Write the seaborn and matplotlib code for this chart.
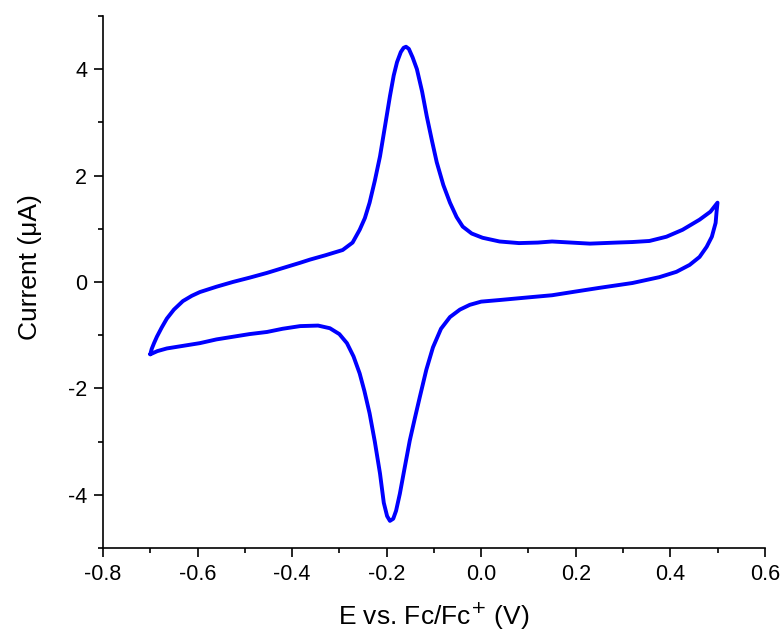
import matplotlib
matplotlib.use("Agg")
import matplotlib.pyplot as plt
import seaborn as sns
import pandas as pd
from matplotlib.ticker import MultipleLocator

# cyclic voltammogram (forward scan then return scan)
potential = [
    -0.700, -0.697, -0.692, -0.686, -0.676, -0.665, -0.650, -0.631, -0.612, -0.595,
    -0.560, -0.525, -0.490, -0.453, -0.420, -0.383, -0.362, -0.330, -0.293, -0.272,
    -0.257, -0.246, -0.236, -0.225, -0.214, -0.203, -0.193, -0.185, -0.178, -0.170,
    -0.164, -0.159, -0.153, -0.145, -0.136, -0.125, -0.115, -0.104, -0.094, -0.080,
    -0.066, -0.052, -0.039, -0.020, 0.003, 0.039, 0.080, 0.120, 0.150, 0.190,
    0.230, 0.287, 0.320, 0.356, 0.392, 0.426, 0.462, 0.485, 0.500,
    0.498, 0.496, 0.488, 0.477, 0.462, 0.441, 0.413, 0.377, 0.320, 0.251,
    0.200, 0.150, 0.100, 0.039, 0.000, -0.024, -0.045, -0.066, -0.085, -0.102,
    -0.116, -0.130, -0.140, -0.151, -0.162, -0.172, -0.180, -0.186, -0.193, -0.199,
    -0.206, -0.214, -0.225, -0.236, -0.247, -0.257, -0.270, -0.284, -0.300, -0.320,
    -0.345, -0.383, -0.420, -0.453, -0.490, -0.525, -0.560, -0.595, -0.630, -0.665,
    -0.685, -0.700,
]
current = [
    -1.36, -1.26, -1.15, -1.03, -0.86, -0.69, -0.52, -0.36, -0.26, -0.19,
    -0.09, 0.00, 0.08, 0.17, 0.26, 0.36, 0.42, 0.50, 0.60, 0.74,
    0.98, 1.20, 1.49, 1.90, 2.36, 2.95, 3.49, 3.88, 4.13, 4.32,
    4.40, 4.42, 4.38, 4.22, 4.00, 3.58, 3.11, 2.65, 2.25, 1.82,
    1.49, 1.22, 1.04, 0.91, 0.83, 0.76, 0.73, 0.74, 0.76, 0.74,
    0.72, 0.74, 0.75, 0.77, 0.85, 0.98, 1.17, 1.32, 1.49,
    1.32, 1.11, 0.85, 0.66, 0.47, 0.32, 0.19, 0.09, -0.02, -0.11,
    -0.18, -0.25, -0.29, -0.34, -0.37, -0.43, -0.52, -0.66, -0.88, -1.23,
    -1.65, -2.17, -2.55, -2.98, -3.50, -3.98, -4.30, -4.45, -4.49, -4.40,
    -4.15, -3.60, -3.00, -2.47, -2.05, -1.72, -1.40, -1.15, -0.98, -0.87,
    -0.82, -0.83, -0.88, -0.94, -0.98, -1.03, -1.08, -1.15, -1.20, -1.25,
    -1.30, -1.36,
]

df = pd.DataFrame({"E": potential, "I": current})

sns.set_style("ticks")
plt.rcParams["font.family"] = ["Liberation Sans", "DejaVu Sans"]

fig = plt.figure(figsize=(7.82, 6.35), dpi=100)
ax = fig.add_axes([0.1317, 0.137, 0.8463, 0.838])

sns.lineplot(data=df, x="E", y="I", sort=False, estimator=None,
             color="#0000ff", linewidth=2.8, ax=ax)

ax.set_xlim(-0.8, 0.6)
ax.set_ylim(-5, 5)
ax.xaxis.set_major_locator(MultipleLocator(0.2))
ax.xaxis.set_minor_locator(MultipleLocator(0.1))
ax.yaxis.set_major_locator(MultipleLocator(2))
ax.yaxis.set_minor_locator(MultipleLocator(1))
ax.xaxis.set_major_formatter(plt.FuncFormatter(lambda v, p: f"{v:.1f}".replace("-0.0", "0.0")))
ax.yaxis.set_major_formatter(plt.FuncFormatter(lambda v, p: f"{v:.0f}"))

sns.despine(ax=ax)
for s in ["left", "bottom"]:
    ax.spines[s].set_linewidth(1.2)
    ax.spines[s].set_color("black")
ax.tick_params(which="major", direction="out", length=6.5, width=1.2,
               labelsize=15.5, colors="black", pad=5)
ax.tick_params(which="minor", direction="out", length=3.5, width=1.2, colors="black")

ax.set_xlabel("E vs. Fc/Fc$^{+}$ (V)", fontsize=19, labelpad=11, color="black")
ax.set_ylabel("Current (μA)", fontsize=19, color="black")
ax.yaxis.set_label_coords(-0.092, 0.528)

fig.savefig("out.png", dpi=100)
